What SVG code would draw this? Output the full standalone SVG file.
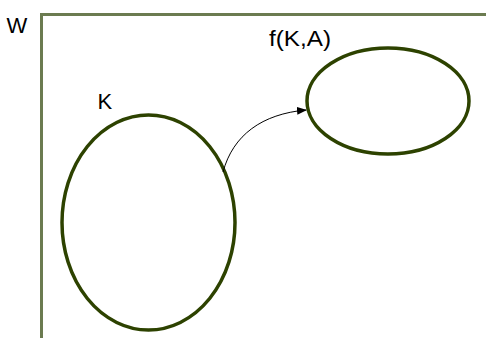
<svg xmlns="http://www.w3.org/2000/svg" width="486" height="338" viewBox="0 0 486 338">
<style>
.t{font-family:"Liberation Sans",Arial,sans-serif;font-size:22px;fill:#000}
.e{fill:none;stroke:#2d4200;stroke-width:3.5}
.c{fill:none;stroke:#000;stroke-width:1}
</style>
<defs>
<marker id="ah" markerWidth="10" markerHeight="8" refX="9" refY="4" orient="auto" markerUnits="userSpaceOnUse">
<path d="M0,0 L10,4 L0,8 Z" fill="#000"/>
</marker>
</defs>
<rect width="486" height="338" fill="#fff"/>
<g id="W">
<path d="M41.5,338 V14.5 H486" fill="none" stroke="#6b7b50" stroke-width="3"/>
<text class="t" x="6.5" y="33">W</text>
</g>
<g id="K">
<ellipse class="e" cx="148.5" cy="222.5" rx="86.5" ry="107.5"/>
<text class="t" x="97.5" y="109">K</text>
</g>
<g id="fKA">
<ellipse class="e" cx="388" cy="101" rx="81" ry="53"/>
<text class="t" x="269" y="46" textLength="62" lengthAdjust="spacingAndGlyphs">f(K,A)</text>
</g>
<g id="connectors">
<path class="c" d="M223,172 C233,135 262,114 306,110" marker-end="url(#ah)"/>
</g>
</svg>
